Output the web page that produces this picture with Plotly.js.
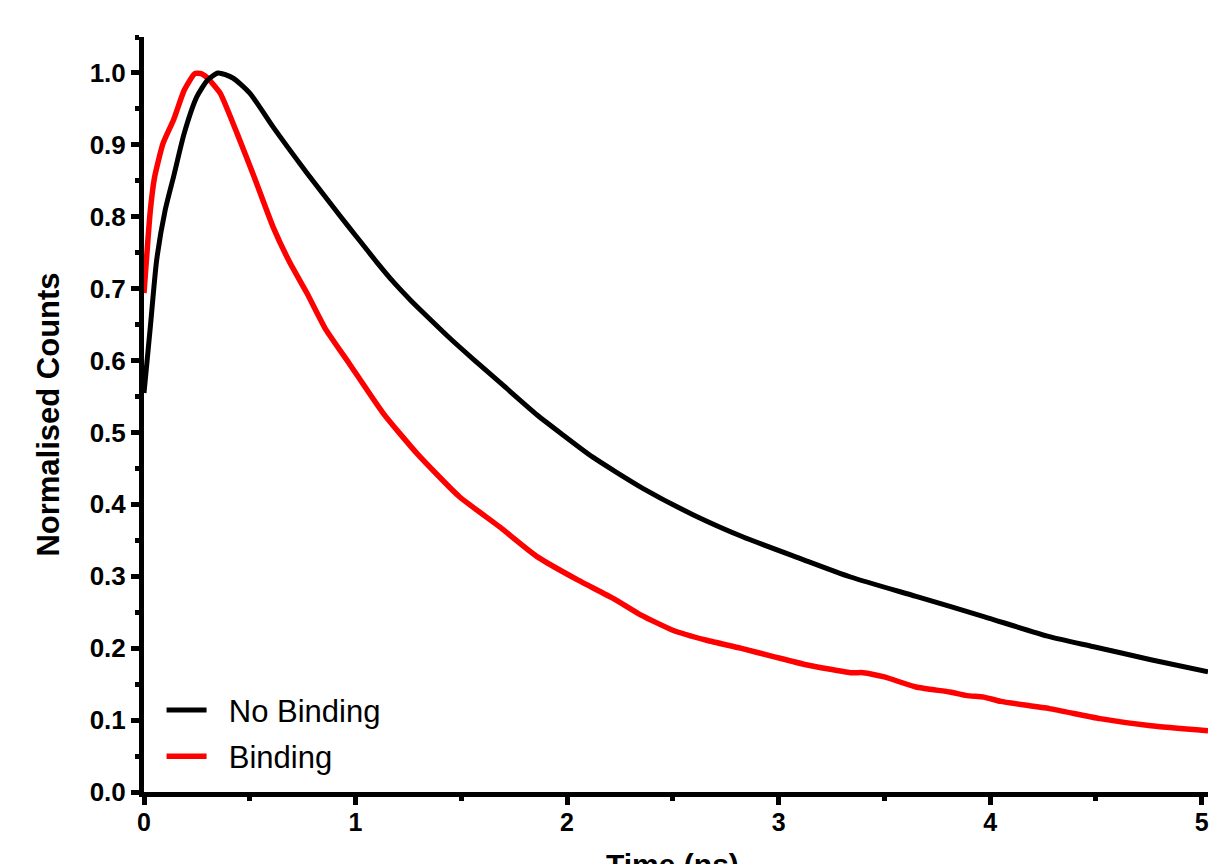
<!DOCTYPE html>
<html>
<head>
<meta charset="utf-8">
<script src="https://cdn.plot.ly/plotly-3.0.1.min.js"></script>
<style>html,body{margin:0;padding:0;background:#fff;}#chart{width:1209px;height:864px;}</style>
</head>
<body>
<div id="chart"></div>
<script>
// No Binding (black)
const noBindingX = [0, 0.03, 0.06, 0.10, 0.14, 0.19, 0.25, 0.30, 0.35, 0.42, 0.50, 0.61, 0.77, 0.93, 1.00, 1.10, 1.18, 1.26, 1.34, 1.45, 1.56, 1.70, 1.86, 1.97, 2.12, 2.36, 2.60, 2.83, 3.10, 3.34, 3.65, 3.97, 4.28, 4.49, 4.76, 5.03];
const noBindingY = [0.555, 0.647, 0.740, 0.809, 0.856, 0.916, 0.967, 0.990, 1.0, 0.993, 0.972, 0.925, 0.861, 0.800, 0.774, 0.737, 0.709, 0.684, 0.661, 0.630, 0.601, 0.565, 0.524, 0.499, 0.466, 0.422, 0.385, 0.355, 0.325, 0.299, 0.272, 0.244, 0.216, 0.202, 0.184, 0.167];
// Binding (red)
const bindingX = [0, 0.03, 0.05, 0.09, 0.14, 0.19, 0.24, 0.27, 0.30, 0.36, 0.44, 0.52, 0.61, 0.69, 0.77, 0.86, 0.97, 1.13, 1.29, 1.49, 1.68, 1.86, 2.05, 2.22, 2.35, 2.50, 2.66, 2.82, 2.98, 3.13, 3.34, 3.40, 3.50, 3.65, 3.81, 3.89, 3.97, 4.05, 4.28, 4.52, 4.76, 5.03];
const bindingY = [0.694, 0.809, 0.855, 0.902, 0.935, 0.976, 0.999, 0.999, 0.993, 0.972, 0.916, 0.856, 0.786, 0.736, 0.694, 0.643, 0.596, 0.527, 0.471, 0.411, 0.369, 0.327, 0.295, 0.269, 0.246, 0.225, 0.211, 0.200, 0.188, 0.177, 0.166, 0.166, 0.160, 0.146, 0.139, 0.134, 0.132, 0.126, 0.116, 0.102, 0.092, 0.085];

const seriesNames = ["No Binding", "Binding"];
const xTitle = "Time (ns)";
const yTitle = "Normalised Counts";

const FONT = '"Liberation Sans", Arial, sans-serif';
const PAD = '\u00a0\u00a0';

const traces = [
  {x: bindingX, y: bindingY, name: PAD + seriesNames[1], type: 'scatter', mode: 'lines',
   line: {color: '#ff0000', width: 5.5, shape: 'spline', smoothing: 0.5}, legendrank: 2, legendgroup: 'b'},
  {x: noBindingX, y: noBindingY, name: PAD + seriesNames[0], type: 'scatter', mode: 'lines',
   line: {color: '#000000', width: 5, shape: 'spline', smoothing: 0.6}, legendrank: 1, legendgroup: 'a'}
];

const layout = {
  width: 1209, height: 864,
  margin: {l: 144, r: 1, t: 37, b: 72},
  paper_bgcolor: '#fff', plot_bgcolor: '#fff',
  font: {family: FONT, color: '#000'},
  showlegend: true,
  legend: {x: 0.0165, y: 0.144, xanchor: 'left', yanchor: 'top', bgcolor: 'rgba(0,0,0,0)',
           font: {family: FONT, size: 31, color: '#000'}, itemwidth: 40, tracegroupgap: 3},
  xaxis: {
    range: [0, 5.03], dtick: 1, tick0: 0, showgrid: false, zeroline: false,
    showline: true, linecolor: '#000', linewidth: 5,
    ticks: 'outside', ticklen: 8, tickwidth: 5, tickcolor: '#000',
    tickfont: {family: FONT, size: 25, weight: 'bold'}, ticklabelstandoff: -4,
    minor: {dtick: 0.5, ticks: 'outside', ticklen: 4, tickwidth: 5, tickcolor: '#000', showgrid: false}
  },
  yaxis: {
    range: [0, 1.05], dtick: 0.1, tick0: 0, tickformat: '.1f', showgrid: false, zeroline: false,
    showline: true, linecolor: '#000', linewidth: 5,
    ticks: 'outside', ticklen: 8, tickwidth: 5, tickcolor: '#000',
    tickfont: {family: FONT, size: 26, weight: 'bold'},
    minor: {dtick: 0.05, ticks: 'outside', ticklen: 4, tickwidth: 5, tickcolor: '#000', showgrid: false},
    title: {text: '<b>' + yTitle + '</b>', font: {family: FONT, size: 31}, standoff: 22}
  },
  annotations: [
    {text: '<b>' + xTitle + '</b>', xref: 'paper', yref: 'paper', x: 0.497, y: -0.0715,
     xanchor: 'center', yanchor: 'top', showarrow: false, font: {family: FONT, size: 30, color: '#000'}}
  ]
};

Plotly.newPlot('chart', traces, layout, {displayModeBar: false, staticPlot: true});
</script>
</body>
</html>
